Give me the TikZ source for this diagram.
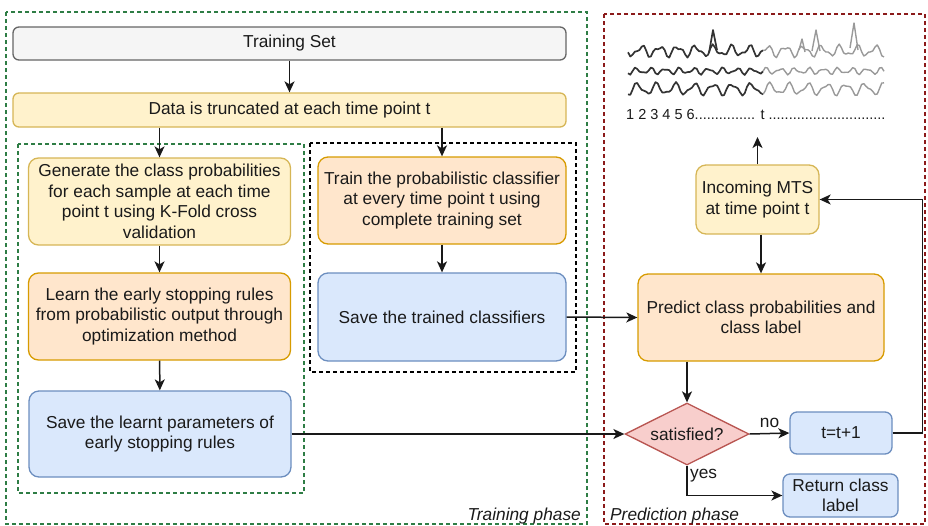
\documentclass[tikz,border=0pt]{standalone}
\usepackage{fontspec}
\setmainfont{Liberation Sans}
\usetikzlibrary{shapes.geometric,arrows.meta}
\definecolor{grayF}{HTML}{F5F5F5}\definecolor{grayD}{HTML}{666666}
\definecolor{yelF}{HTML}{FFF2CC}\definecolor{yelD}{HTML}{D6B656}
\definecolor{orF}{HTML}{FFE6CC}\definecolor{orD}{HTML}{D79B00}
\definecolor{bluF}{HTML}{DAE8FC}\definecolor{bluD}{HTML}{6C8EBF}
\definecolor{redF}{HTML}{F8CECC}\definecolor{redD}{HTML}{B85450}
\definecolor{phG}{HTML}{2E7D45}\definecolor{phR}{HTML}{8B1A1A}
\definecolor{txt}{HTML}{1A1A1A}
\begin{document}
\begin{tikzpicture}[x=1pt,y=-1pt,
  font=\fontsize{17.3}{20.5}\selectfont,
  box/.style={rounded corners=10pt, line width=1.3pt, align=center, inner sep=0pt, text=txt},
  gbox/.style={box, draw=grayD, fill=grayF, rounded corners=6pt},
  ybox/.style={box, draw=yelD, fill=yelF},
  obox/.style={box, draw=orD, fill=orF},
  bbox/.style={box, draw=bluD, fill=bluF},
  dbox/.style={diamond, aspect=2, draw=redD, fill=redF, line width=1.3pt, inner sep=0pt, text=txt},
  arr/.style={draw=black!90, line width=1.5pt, -{Stealth[length=11pt,width=10pt,inset=3pt]}},
  phase/.style={dashed, dash pattern=on 4pt off 3pt, line width=1.2pt},
  lbl/.style={text=txt, inner sep=0pt},
  dark/.style={draw=black!80, line width=1.7pt, line join=round},
  light/.style={draw=black!40, line width=1.4pt, line join=round}
]
\useasboundingbox (0,0) rectangle (928,525);

% phase frames
\draw[phase, draw=phG] (6,12) rectangle (587,524);
\draw[phase, draw=phR] (604,14) rectangle (925,524);
\draw[phase, draw=phG] (18,144) rectangle (304,493);
\draw[phase, draw=black] (310,143) rectangle (576,372);

% nodes
\node[gbox, minimum width=553pt, minimum height=33pt] (ts) at (289.5,43.5) {Training Set};
\node[ybox, rounded corners=6pt, minimum width=553pt, minimum height=34pt] (data) at (289.5,110) {Data is truncated at each time point t};
\node[ybox, minimum width=262pt, minimum height=87pt] (gen) at (159.5,201.5) {Generate the class probabilities\\for each sample at each time\\point t using K-Fold cross\\validation};
\node[obox, minimum width=262pt, minimum height=87pt] (learn) at (159.5,316.5) {Learn the early stopping rules\\from probabilistic output through\\optimization method};
\node[bbox, minimum width=262pt, minimum height=86pt] (slearnt) at (160,434) {Save the learnt parameters of\\early stopping rules};
\node[obox, minimum width=248pt, minimum height=87pt] (train) at (442,200.5) {Train the probabilistic classifier\\at every time point t using\\complete training set};
\node[bbox, minimum width=248pt, minimum height=88pt] (strained) at (442,317) {Save the trained classifiers};
\node[ybox, minimum width=123pt, minimum height=69pt] (mts) at (757.5,199.5) {Incoming MTS\\at time point t};
\node[obox, minimum width=246pt, minimum height=87pt] (pred) at (761,317.5) {Predict class probabilities and\\class label};
\node[dbox, minimum width=124pt, minimum height=62pt] (sat) at (687,434) {satisfied?};
\node[bbox, rounded corners=7pt, minimum width=102pt, minimum height=42pt] (tinc) at (841,433) {t=t+1};
\node[bbox, rounded corners=7pt, minimum width=115pt, minimum height=43pt] (ret) at (840.5,495.5) {Return class\\label};
\coordinate (mtsimg) at (757.5,137);

% MTS sketch
\draw[dark] plot[domain=0:135,samples=60] ({628+\x},{51+4.5*sin(20*\x)+2.5*sin(37*\x+30)});
\draw[light] plot[domain=135:256,samples=55] ({628+\x},{51+4.5*sin(20*\x)+2.5*sin(37*\x+30)});
\draw[dark] (709,53) -- (713,30) -- (717,50);
\draw[light] (799,50) -- (802,39) -- (805,52);
\draw[light] (812,51) -- (816,30) -- (820,51);
\draw[light] (850,48) -- (854,23) -- (858,50);
\draw[dark] plot[domain=0:135,samples=60] ({628+\x},{71+2.6*sin(25*\x+60)+1.4*sin(41*\x)});
\draw[light] plot[domain=135:256,samples=55] ({628+\x},{71+2.6*sin(25*\x+60)+1.4*sin(41*\x)});
\draw[dark] plot[domain=0:135,samples=60] ({628+\x},{89+5*sin(19*\x+90)+2.2*sin(35*\x+10)});
\draw[light] plot[domain=135:256,samples=55] ({628+\x},{89+5*sin(19*\x+90)+2.2*sin(35*\x+10)});
\node[lbl, anchor=base west, font=\fontsize{14.5}{17}\selectfont] (ticks) at (626,119) {1 2 3 4 5 6............... t .............................};

% connectors
\draw[arr] (ts) -- (data);
\draw[arr] (data.south -| gen.north) -- (gen.north);
\draw[arr] (data.south -| train.north) -- (train.north);
\draw[arr] (gen) -- (learn);
\draw[arr] (learn) -- (slearnt);
\draw[arr] (train) -- (strained);
\draw[arr] (strained.east) -- (pred.west);
\draw[arr] (slearnt.east) -- (sat.west);
\draw[arr] (mts.north) -- (mtsimg);
\draw[arr] (pred.north |- mts.south) -- (pred.north);
\draw[arr] (sat.north |- pred.south) -- (sat.north);
\draw[arr] (sat.east) -- node[lbl, above=5pt] {no} (tinc.west);
\draw[arr] (tinc.east) -- ++(30,0) |- (mts.east);
\draw[arr] (sat.south) |- (ret.west);
\node[lbl, anchor=west] (yes) at (690,476) {yes};

% phase labels
\node[lbl, anchor=east, font=\fontsize{17.3}{20}\selectfont\itshape] (tp) at (581,516) {Training phase};
\node[lbl, anchor=west, font=\fontsize{17.3}{20}\selectfont\itshape] (pp) at (610,516) {Prediction phase};
\end{tikzpicture}
\end{document}
